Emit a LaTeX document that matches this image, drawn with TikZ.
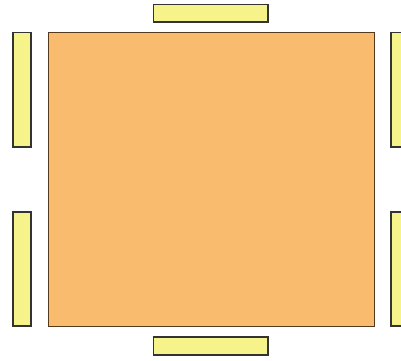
\documentclass[tikz,border=0pt]{standalone}
\definecolor{tableorange}{HTML}{F9BB6E}
\definecolor{chairyellow}{HTML}{F6F38A}
\begin{document}
\begin{tikzpicture}[x=1pt,y=-1pt,
  chair/.style={draw=black!80,line width=1.2pt,fill=chairyellow},
  tablebox/.style={draw=black!55!brown,line width=0.6pt,fill=tableorange}]
\path[use as bounding box,fill=white] (0,0) rectangle (401,360);
\path[tablebox] (48.5,32.5) rectangle (374,326) node[pos=0.5] (table) {};
\path[chair] (153.5,4.5) rectangle (268,22) node[pos=0.5] (ctop) {};
\path[chair] (153.5,337) rectangle (268,355) node[pos=0.5] (cbottom) {};
\path[chair] (13,32.5) rectangle (31,147) node[pos=0.5] (cleft1) {};
\path[chair] (13,212) rectangle (31,326) node[pos=0.5] (cleft2) {};
\path[chair] (391,32.5) rectangle (409,147) node[pos=0.5] (cright1) {};
\path[chair] (391,212) rectangle (409,326) node[pos=0.5] (cright2) {};
\end{tikzpicture}
\end{document}
